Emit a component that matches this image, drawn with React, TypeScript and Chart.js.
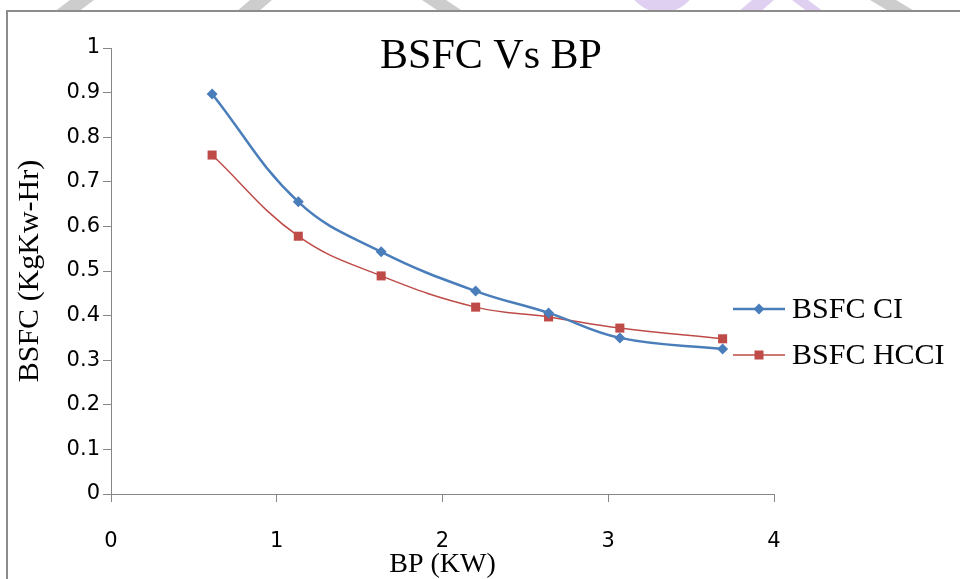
import React, { useEffect, useRef } from "react";
import { Chart, registerables } from "chart.js";

Chart.register(...registerables);

const chartTitle = "BSFC Vs BP";
const xAxisTitle = "BP (KW)";
const yAxisTitle = "BSFC (KgKw-Hr)";
const seriesNames = ["BSFC CI", "BSFC HCCI"];
const bp = [0.61, 1.13, 1.63, 2.2, 2.64, 3.07, 3.69];
const bsfcCI = [0.897, 0.655, 0.543, 0.455, 0.406, 0.35, 0.325];
const bsfcHCCI = [0.76, 0.578, 0.489, 0.419, 0.397, 0.372, 0.348];
const xTicks = [0, 1, 2, 3, 4];
const yMin = 0;
const yMax = 1;
const yStep = 0.1;

const BLUE = "#4a7ebb";
const RED = "#be4b48";
const AXIS = "#868686";
const SERIF = "'Liberation Serif', 'Times New Roman', serif";
const SANS = "'DejaVu Sans', Verdana, sans-serif";

function diamond(ctx: CanvasRenderingContext2D, x: number, y: number, r: number) {
  ctx.beginPath();
  ctx.moveTo(x, y - r);
  ctx.lineTo(x + r, y);
  ctx.lineTo(x, y + r);
  ctx.lineTo(x - r, y);
  ctx.closePath();
  ctx.fill();
}

const decorPlugin = {
  id: "decor",
  beforeDraw(chart: any) {
    const ctx = chart.ctx as CanvasRenderingContext2D;
    ctx.save();
    ctx.fillStyle = "#ffffff";
    ctx.fillRect(0, 0, chart.width, chart.height);
    // faint watermark strokes above the frame
    ctx.beginPath();
    ctx.rect(0, 0, chart.width, 11);
    ctx.clip();
    const poly = (pts: number[][], color: string) => {
      ctx.fillStyle = color;
      ctx.beginPath();
      ctx.moveTo(pts[0][0], pts[0][1]);
      for (let i = 1; i < pts.length; i++) ctx.lineTo(pts[i][0], pts[i][1]);
      ctx.closePath();
      ctx.fill();
    };
    const G = "#cdcdcd";
    const P = "#dfcff0";
    poly([[70, 0], [94, 0], [78, 12], [54, 12]], G);
    poly([[250, 0], [272, 0], [258, 12], [236, 12]], G);
    poly([[422, 0], [446, 0], [464, 12], [440, 12]], G);
    poly([[752, 0], [774, 0], [760, 12], [738, 12]], P);
    poly([[792, 0], [808, 0], [824, 12], [808, 12]], P);
    poly([[870, 0], [896, 0], [916, 12], [890, 12]], G);
    ctx.strokeStyle = P;
    ctx.lineWidth = 13;
    ctx.beginPath();
    ctx.arc(662, -24, 30, 0, Math.PI);
    ctx.stroke();
    ctx.restore();

    ctx.save();
    ctx.strokeStyle = "#8c8c8c";
    ctx.lineWidth = 2;
    ctx.beginPath();
    ctx.moveTo(chart.width, 11);
    ctx.lineTo(7, 11);
    ctx.lineTo(7, chart.height);
    ctx.stroke();
    ctx.restore();
  },
  afterDraw(chart: any) {
    const ctx = chart.ctx as CanvasRenderingContext2D;
    ctx.save();
    ctx.fillStyle = "#000";
    ctx.font = `42px ${SERIF}`;
    ctx.textAlign = "center";
    ctx.textBaseline = "alphabetic";
    ctx.fillText(chartTitle, 491, 68);

    // legend
    const items = [
      { name: seriesNames[0], color: BLUE, y: 309, w: 2.5, shape: "d" },
      { name: seriesNames[1], color: RED, y: 355, w: 1.5, shape: "s" },
    ];
    ctx.textAlign = "left";
    ctx.font = `30px ${SERIF}`;
    for (const it of items) {
      ctx.strokeStyle = it.color;
      ctx.lineWidth = it.w;
      ctx.beginPath();
      ctx.moveTo(733, it.y);
      ctx.lineTo(785, it.y);
      ctx.stroke();
      ctx.fillStyle = it.color;
      if (it.shape === "d") diamond(ctx, 759, it.y, 5.5);
      else ctx.fillRect(754.5, it.y - 4.5, 9, 9);
      ctx.fillStyle = "#000";
      ctx.fillText(it.name, 792, it.y + 9);
    }
    ctx.restore();
  },
};

export default function App() {
  const ref = useRef<HTMLCanvasElement | null>(null);
  useEffect(() => {
    document.body.style.margin = "0";
    const canvas = ref.current;
    if (!canvas) return;
    const chart = new Chart(canvas, {
      type: "line",
      data: {
        datasets: [
          {
            label: seriesNames[0],
            data: bp.map((x, i) => ({ x, y: bsfcCI[i] })),
            borderColor: BLUE,
            backgroundColor: BLUE,
            borderWidth: 2.5,
            pointStyle: "rectRot",
            pointRadius: 5.5,
            pointBorderWidth: 0,
            tension: 0.4,
            fill: false,
          },
          {
            label: seriesNames[1],
            data: bp.map((x, i) => ({ x, y: bsfcHCCI[i] })),
            borderColor: RED,
            backgroundColor: RED,
            borderWidth: 1.5,
            pointStyle: "rect",
            pointRadius: 6.4,
            pointBorderWidth: 0,
            tension: 0.4,
            fill: false,
          },
        ],
      },
      plugins: [decorPlugin],
      options: {
        responsive: false,
        animation: false,
        layout: { padding: { left: 0, top: 48, right: 186, bottom: 0 } },
        plugins: {
          legend: { display: false },
          title: { display: false },
          tooltip: { enabled: false },
        },
        scales: {
          x: {
            type: "linear",
            min: xTicks[0],
            max: xTicks[xTicks.length - 1],
            afterBuildTicks: (scale: any) => {
              scale.ticks = xTicks.map((v) => ({ value: v }));
            },
            afterFit: (scale: any) => {
              scale.height = 85;
            },
            grid: {
              drawOnChartArea: false,
              drawTicks: true,
              tickLength: 8,
              color: AXIS,
            },
            border: { color: AXIS, width: 1 },
            ticks: {
              color: "#000",
              font: { family: SANS, size: 21 },
              padding: 27,
              maxRotation: 0,
            },
            title: {
              display: true,
              text: xAxisTitle,
              color: "#000",
              font: { family: SERIF, size: 28, lineHeight: 1 },
              padding: { top: 0, bottom: 0 },
            },
          },
          y: {
            type: "linear",
            min: yMin,
            max: yMax,
            afterFit: (scale: any) => {
              scale.width = 111;
            },
            grid: {
              drawOnChartArea: false,
              drawTicks: true,
              tickLength: 8,
              color: AXIS,
            },
            border: { color: AXIS, width: 1 },
            ticks: {
              stepSize: yStep,
              color: "#000",
              font: { family: SANS, size: 21 },
              padding: 3,
              callback: (v: any) => String(Math.round(Number(v) * 10) / 10),
            },
            title: {
              display: true,
              text: yAxisTitle,
              color: "#000",
              font: { family: SERIF, size: 30, lineHeight: 1 },
              padding: { top: 15, bottom: 0 },
            },
          },
        },
      },
    });
    return () => chart.destroy();
  }, []);
  return (
    <div style={{ position: "absolute", left: 0, top: 0, width: 960, height: 579 }}>
      <canvas ref={ref} width={960} height={579} style={{ width: 960, height: 579, display: "block" }} />
    </div>
  );
}
